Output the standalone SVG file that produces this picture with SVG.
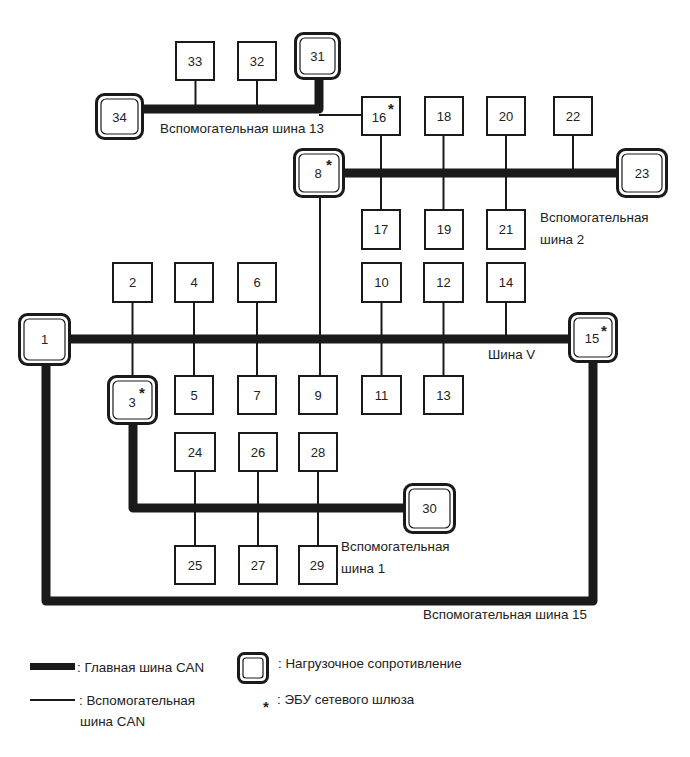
<svg xmlns="http://www.w3.org/2000/svg" width="690" height="757" viewBox="0 0 690 757">
<style>
.bg{fill:#fff}
.box{fill:#fff;stroke:#1a1a1a;stroke-width:2}
.tout{fill:#fff;stroke:#1a1a1a;stroke-width:3}
.tin{fill:none;stroke:#1a1a1a;stroke-width:1.2}
.main{fill:none;stroke:#1a1a1a;stroke-width:9;stroke-linejoin:round}
.sub{fill:none;stroke:#1a1a1a;stroke-width:2}
text{font-family:"Liberation Sans",Arial,sans-serif;fill:#222;font-size:13.4px}
.n{text-anchor:middle;font-size:13px}
.ast{font-size:15px;font-weight:bold}
</style>
<rect class="bg" x="0" y="0" width="690" height="757"/>
<g id="connectors">
  <path class="main" d="M144,109 H319 V80"/>
  <path class="sub" d="M319,115 H361"/>
  <path class="sub" d="M195.5,81 V109 M257,81 V109"/>
  <path class="main" d="M345,173 H616"/>
  <path class="sub" d="M381,136 V210 M443.5,136 V210 M506,136 V210 M573,136 V173"/>
  <path class="sub" d="M320,198 V375"/>
  <path class="main" d="M71,339 H568"/>
  <path class="sub" d="M132.5,303 V375 M194,302 V375 M257,302 V375 M381.5,302 V375 M443.5,302 V375 M506,302 V339"/>
  <path class="main" d="M46,366 V601 H593 V363"/>
  <path class="main" d="M133,425 V508 H403"/>
  <path class="sub" d="M195,472 V545 M258,472 V545 M318,472 V545"/>
</g>
<g id="n33"><rect class="box" x="176" y="42" width="38" height="38"/><text class="n" x="195" y="66">33</text></g>
<g id="n32"><rect class="box" x="238" y="42" width="38" height="38"/><text class="n" x="257" y="66">32</text></g>
<g id="n31"><rect class="tout" x="295.5" y="33.5" width="44" height="45" rx="8"/><rect class="tin" x="300" y="38" width="35" height="36" rx="5"/><text class="n" x="317.5" y="61">31</text></g>
<g id="n34"><rect class="tout" x="96.5" y="94.5" width="46" height="44" rx="8"/><rect class="tin" x="101" y="99" width="37" height="35" rx="5"/><text class="n" x="119.5" y="122">34</text></g>
<text x="160" y="133">Вспомогательная шина 13</text>
<g id="n16"><rect class="box" x="362" y="97" width="38" height="38"/><text class="n" x="379" y="122">16</text><text class="ast" x="388" y="114">*</text></g>
<g id="n18"><rect class="box" x="425" y="97" width="38" height="38"/><text class="n" x="444" y="121">18</text></g>
<g id="n20"><rect class="box" x="487" y="97" width="38" height="38"/><text class="n" x="506" y="121">20</text></g>
<g id="n22"><rect class="box" x="554" y="97" width="38" height="38"/><text class="n" x="573" y="121">22</text></g>
<g id="n8"><rect class="tout" x="294.5" y="149.5" width="49" height="47" rx="8"/><rect class="tin" x="299" y="154" width="40" height="38" rx="5"/><text class="n" x="318" y="178">8</text><text class="ast" x="326" y="170">*</text></g>
<g id="n23"><rect class="tout" x="617.5" y="149.5" width="49" height="47" rx="8"/><rect class="tin" x="622" y="154" width="40" height="38" rx="5"/><text class="n" x="642" y="178">23</text></g>
<g id="n17"><rect class="box" x="362" y="210" width="38" height="39"/><text class="n" x="381" y="234">17</text></g>
<g id="n19"><rect class="box" x="425" y="210" width="38" height="39"/><text class="n" x="444" y="234">19</text></g>
<g id="n21"><rect class="box" x="487" y="210" width="38" height="39"/><text class="n" x="506" y="234">21</text></g>
<text x="540" y="222">Вспомогательная</text>
<text x="540" y="244">шина 2</text>
<g id="n2"><rect class="box" x="113" y="263" width="39" height="39"/><text class="n" x="132.5" y="287">2</text></g>
<g id="n4"><rect class="box" x="175" y="263" width="38" height="39"/><text class="n" x="194" y="287">4</text></g>
<g id="n6"><rect class="box" x="238" y="263" width="38" height="39"/><text class="n" x="257" y="287">6</text></g>
<g id="n10"><rect class="box" x="362" y="263" width="39" height="39"/><text class="n" x="381.5" y="287">10</text></g>
<g id="n12"><rect class="box" x="424" y="263" width="39" height="39"/><text class="n" x="443.5" y="287">12</text></g>
<g id="n14"><rect class="box" x="487" y="263" width="38" height="39"/><text class="n" x="506" y="287">14</text></g>
<g id="n1"><rect class="tout" x="19.5" y="314.5" width="50" height="50" rx="8"/><rect class="tin" x="24" y="319" width="41" height="41" rx="5"/><text class="n" x="44.5" y="344">1</text></g>
<g id="n15"><rect class="tout" x="569.5" y="313.5" width="47" height="48" rx="8"/><rect class="tin" x="574" y="318" width="38" height="39" rx="5"/><text class="n" x="592" y="343">15</text><text class="ast" x="601" y="336">*</text></g>
<text x="488" y="359">Шина V</text>
<g id="n3"><rect class="tout" x="108.5" y="376.5" width="48" height="47" rx="8"/><rect class="tin" x="113" y="381" width="39" height="38" rx="5"/><text class="n" x="132" y="407">3</text><text class="ast" x="139" y="398">*</text></g>
<g id="n5"><rect class="box" x="175" y="376" width="38" height="38"/><text class="n" x="194" y="400">5</text></g>
<g id="n7"><rect class="box" x="238" y="376" width="38" height="38"/><text class="n" x="257" y="400">7</text></g>
<g id="n9"><rect class="box" x="299" y="376" width="38" height="38"/><text class="n" x="318" y="400">9</text></g>
<g id="n11"><rect class="box" x="362" y="376" width="39" height="38"/><text class="n" x="381.5" y="400">11</text></g>
<g id="n13"><rect class="box" x="424" y="376" width="39" height="38"/><text class="n" x="443.5" y="400">13</text></g>
<g id="n24"><rect class="box" x="175" y="433" width="40" height="38"/><text class="n" x="195" y="457">24</text></g>
<g id="n26"><rect class="box" x="239" y="433" width="38" height="38"/><text class="n" x="258" y="457">26</text></g>
<g id="n28"><rect class="box" x="299" y="433" width="38" height="38"/><text class="n" x="318" y="457">28</text></g>
<g id="n30"><rect class="tout" x="404.5" y="484.5" width="50" height="48" rx="8"/><rect class="tin" x="409" y="489" width="41" height="39" rx="5"/><text class="n" x="429.5" y="513">30</text></g>
<g id="n25"><rect class="box" x="175" y="546" width="40" height="38"/><text class="n" x="195" y="570">25</text></g>
<g id="n27"><rect class="box" x="239" y="546" width="38" height="38"/><text class="n" x="258" y="570">27</text></g>
<g id="n29"><rect class="box" x="299" y="546" width="38" height="38"/><text class="n" x="317" y="570">29</text></g>
<text x="341" y="551">Вспомогательная</text>
<text x="341" y="573">шина 1</text>
<text x="423" y="619">Вспомогательная шина 15</text>
<g id="legend">
  <rect x="30" y="663" width="45" height="7" fill="#1a1a1a"/>
  <text x="77" y="672">: Главная шина CAN</text>
  <rect class="tout" x="238.5" y="653.5" width="29" height="29" rx="6"/>
  <rect class="tin" x="243" y="658" width="20" height="20" rx="3"/>
  <text x="278" y="668">: Нагрузочное сопротивление</text>
  <path class="sub" d="M30,700 H75"/>
  <text x="79" y="705">: Вспомогательная</text>
  <text x="80" y="726">шина CAN</text>
  <text class="ast" x="263" y="712">*</text>
  <text x="277" y="704">: ЭБУ сетевого шлюза</text>
</g>
</svg>
